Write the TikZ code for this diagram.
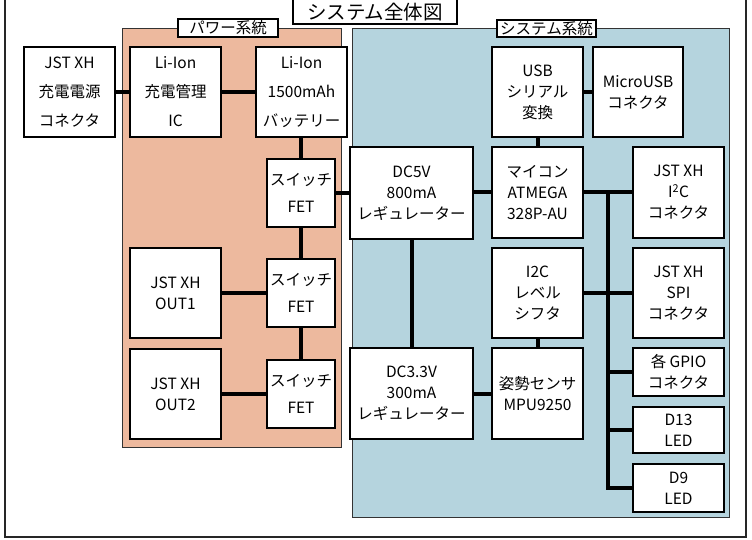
\documentclass[tikz,border=0pt]{standalone}
\usepackage{fontspec}
\setmainfont{Noto Sans CJK JP}
\definecolor{salmon}{RGB}{237,185,158}
\definecolor{sysblue}{RGB}{181,212,222}
\begin{document}
\begin{tikzpicture}[x=1pt,y=-1pt,
  box/.style={draw=black, line width=2pt, fill=white, align=center, inner sep=1pt,
    font=\fontsize{15.5}{21}\selectfont},
  wide/.style={font=\fontsize{15.5}{29}\selectfont},
  fetbox/.style={box, minimum width=68pt, minimum height=68pt, font=\fontsize{15.5}{27}\selectfont},
  conn/.style={line width=4pt},
  region/.style={draw=black!80, line width=1pt},
  tag/.style={draw=black, line width=1.2pt, fill=white, inner sep=0pt, font=\fontsize{15.5}{18}\selectfont}]
\useasboundingbox (0,0) rectangle (752,540);
\clip (0,0) rectangle (752,540);
\fill[white] (0,0) rectangle (752,540);
\draw[line width=1.5pt, black!85] (5,-5) rectangle (746,537);
% regions
\draw[region, fill=salmon] (122,29) rectangle (341,447);
\draw[region, fill=sysblue] (352,29) rectangle (729,517);
\node[tag, minimum width=100pt, minimum height=18pt] (ptag) at (228,28) {パワー系統};
\node[tag, minimum width=99pt, minimum height=17pt] (stag) at (546.5,28.5) {システム系統};
\draw[line width=1.5pt, fill=white] (293,-5) rectangle (457,24);
\node[inner sep=0pt, font=\fontsize{19.5}{22}\selectfont] (title) at (375,12) {システム全体図};
% boxes
\node[box, wide, minimum width=91pt, minimum height=90pt] (chg) at (69.5,92) {JST XH\\充電電源\\コネクタ};
\node[box, wide, minimum width=91pt, minimum height=90pt] (ic) at (175.5,92) {Li-Ion\\充電管理\\IC};
\node[box, wide, minimum width=91pt, minimum height=90pt] (bat) at (301.5,92) {Li-Ion\\1500mAh\\バッテリー};
\node[fetbox] (fet1) at (301,193) {スイッチ\\FET};
\node[fetbox] (fet2) at (301,293) {スイッチ\\FET};
\node[fetbox] (fet3) at (301,394) {スイッチ\\FET};
\node[box, minimum width=91pt, minimum height=90pt] (out1) at (175.5,293) {JST XH\\OUT1};
\node[box, minimum width=91pt, minimum height=90pt] (out2) at (175.5,394) {JST XH\\OUT2};
\node[box, minimum width=123pt, minimum height=92pt] (dc5) at (411.5,193) {DC5V\\800mA\\レギュレーター};
\node[box, minimum width=123pt, minimum height=91pt] (dc33) at (411.5,393.5) {DC3.3V\\300mA\\レギュレーター};
\node[box, minimum width=91pt, minimum height=90pt] (usb) at (537.5,92) {USB\\シリアル\\変換};
\node[box, minimum width=90pt, minimum height=90pt] (musb) at (638,92) {MicroUSB\\コネクタ};
\node[box, minimum width=91pt, minimum height=91pt] (mcu) at (537.5,192.5) {マイコン\\ATMEGA\\328P-AU};
\node[box, minimum width=91pt, minimum height=90pt] (lvl) at (537.5,293) {I2C\\レベル\\シフタ};
\node[box, minimum width=91pt, minimum height=91pt] (imu) at (537.5,393.5) {姿勢センサ\\MPU9250};
\node[box, minimum width=91pt, minimum height=91pt] (i2c) at (678.5,192.5) {JST XH\\I\textsuperscript{2}C\\コネクタ};
\node[box, minimum width=91pt, minimum height=90pt] (spi) at (678.5,293) {JST XH\\SPI\\コネクタ};
\node[box, minimum width=91pt, minimum height=48pt] (gpio) at (678.5,372) {各 GPIO\\コネクタ};
\node[box, minimum width=91pt, minimum height=46pt] (d13) at (678.5,430) {D13\\LED};
\node[box, minimum width=91pt, minimum height=48pt] (d9) at (678.5,488) {D9\\LED};
% connectors
\draw[conn] (chg.east) -- (ic.west);
\draw[conn] (ic.east) -- (bat.west);
\draw[conn] (bat.south -| fet1.north) -- (fet1.north);
\draw[conn] (fet1.east) -- (fet1.east -| dc5.west);
\draw[conn] (fet1.south) -- (fet2.north);
\draw[conn] (fet2.south) -- (fet3.north);
\draw[conn] (out1.east) -- (fet2.west);
\draw[conn] (out2.east) -- (fet3.west);
\draw[conn] (dc5.east |- mcu.west) -- (mcu.west);
\draw[conn] (usb.south) -- (mcu.north);
\draw[conn] (usb.east) -- (musb.west);
\draw[conn] (dc5.south) -- (dc33.north);
\draw[conn] (dc33.east) -- (dc33.east -| imu.west);
\draw[conn] (lvl.south) -- (imu.north);
\coordinate (bt) at (608,192.5);
\draw[conn] (mcu.east) -- (i2c.west);
\draw[conn] (bt) -- (bt |- d9.west) -- (d9.west);
\draw[conn] (lvl.east) -- (spi.west);
\draw[conn] (bt |- gpio.west) -- (gpio.west);
\draw[conn] (bt |- d13.west) -- (d13.west);
\end{tikzpicture}
\end{document}
